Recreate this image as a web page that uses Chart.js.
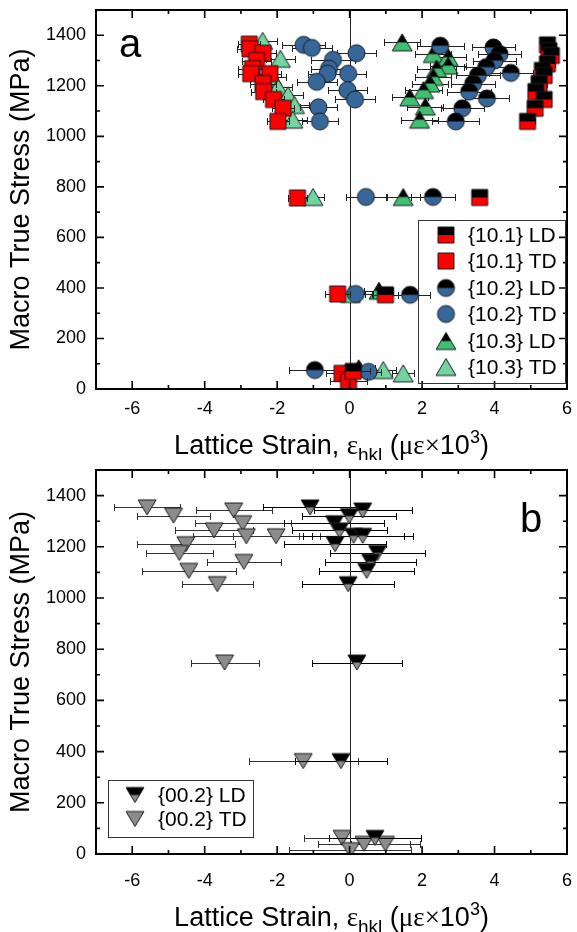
<!DOCTYPE html>
<html><head><meta charset="utf-8">
<script src="https://cdn.jsdelivr.net/npm/chart.js@4.4.1/dist/chart.umd.min.js"></script>
<style>
html,body{margin:0;padding:0;background:#fff;}
#wrap{position:relative;width:577px;height:932px;}
#ca{position:absolute;left:0;top:0;}
#cb{position:absolute;left:0;top:460px;}
</style></head><body>
<div id="wrap"><canvas id="ca" width="577" height="460"></canvas><canvas id="cb" width="577" height="472"></canvas></div>
<script>
// ---------------- DATA ----------------
const xTickValues = [-6, -4, -2, 0, 2, 4, 6];
const xMinorTicks = [-5, -3, -1, 1, 3, 5];
const yTickValues = [0, 200, 400, 600, 800, 1000, 1200, 1400];
const yMinorTicks = [100, 300, 500, 700, 900, 1100, 1300];

const labelsA = ['{10.1} LD', '{10.1} TD', '{10.2} LD', '{10.2} TD', '{10.3} LD', '{10.3} TD'];
const labelsB = ['{00.2} LD', '{00.2} TD'];

// Panel a
const ld101Strain = [5.46, 5.50, 5.57, 5.46, 5.32, 5.37, 5.23, 5.14, 5.37, 5.12, 4.91, 3.59, 0.99, 0.10];
const ld101Stress = [1362, 1339, 1320, 1287, 1261, 1241, 1209, 1177, 1146, 1111, 1059, 758, 373, 70];
const ld101Err    = [0.18, 0.15, 0.18, 0.2, 0.2, 0.2, 0.22, 0.2, 0.2, 0.2, 0.22, 0.1, 0.35, 0.45];

const td101Strain = [-2.77, -2.75, -2.39, -2.57, -2.68, -2.73, -2.20, -2.39, -2.37, -2.10, -1.84, -1.98, -1.44, -0.33, -0.21, -0.03];
const td101Stress = [1365, 1346, 1329, 1300, 1268, 1248, 1248, 1209, 1177, 1146, 1111, 1059, 756, 376, 62, 30];
const td101Err    = [0.3, 0.35, 0.35, 0.4, 0.4, 0.35, 0.3, 0.35, 0.35, 0.3, 0.3, 0.3, 0.25, 0.35, 0.45, 0.5];

const ld102Strain = [2.50, 3.97, 4.14, 4.00, 3.77, 4.45, 3.54, 3.41, 3.30, 3.79, 3.11, 2.93, 2.30, 1.67, -0.96];
const ld102Stress = [1359, 1352, 1326, 1300, 1274, 1251, 1241, 1209, 1177, 1150, 1111, 1059, 760, 373, 75];
const ld102Err    = [0.65, 0.6, 0.6, 0.6, 0.6, 0.6, 0.6, 0.6, 0.6, 0.6, 0.6, 0.65, 0.6, 0.55, 0.7];

const td102Strain = [-1.27, -1.04, 0.19, -0.46, -0.57, -0.61, -0.04, -0.91, -0.06, 0.15, -0.86, -0.82, 0.45, 0.17, 0.52];
const td102Stress = [1362, 1350, 1329, 1303, 1268, 1248, 1248, 1216, 1183, 1146, 1115, 1059, 760, 376, 68];
const td102Err    = [0.6, 0.55, 0.55, 0.6, 0.5, 0.55, 0.5, 0.55, 0.55, 0.55, 0.5, 0.5, 0.55, 0.45, 0.35];

const ld103Strain = [1.45, 2.31, 2.72, 2.72, 2.40, 2.31, 2.22, 2.04, 1.66, 2.09, 1.93, 1.48, 0.81, 0.25];
const ld103Stress = [1372, 1326, 1313, 1280, 1268, 1235, 1209, 1183, 1154, 1118, 1066, 760, 389, 82];
const ld103Err    = [0.5, 0.5, 0.5, 0.5, 0.55, 0.5, 0.5, 0.5, 0.5, 0.5, 0.5, 0.45, 0.4, 0.45];

const td103Strain = [-2.40, -1.91, -2.15, -1.98, -1.70, -1.52, -1.57, -1.01, 0.02, 0.93, 1.48];
const td103Stress = [1378, 1307, 1235, 1195, 1163, 1124, 1066, 760, 376, 75, 62];
const td103Err    = [0.4, 0.4, 0.4, 0.4, 0.4, 0.4, 0.4, 0.3, 0.4, 0.35, 0.3];

// Panel b
const ld002Strain = [-1.09, 0.36, -0.01, -0.42, -0.28, 0.11, 0.36, -0.40, 0.77, 0.58, 0.47, -0.04, 0.20, -0.24, 0.70];
const ld002Stress = [1354, 1342, 1320, 1292, 1264, 1243, 1243, 1210, 1176, 1142, 1106, 1054, 748, 363, 63];
const ld002Err    = [1.3, 1.35, 1.3, 1.38, 1.3, 1.4, 1.4, 1.4, 1.3, 1.26, 1.32, 1.27, 1.25, 1.27, 1.26];

const td002Strain = [-5.59, -4.86, -3.20, -2.95, -3.74, -2.85, -2.03, -4.52, -4.70, -2.92, -4.44, -3.65, -3.45, -1.28, -0.21, 0.40, 0.99, 0.02];
const td002Stress = [1354, 1322, 1342, 1292, 1264, 1241, 1241, 1210, 1176, 1141, 1106, 1054, 748, 363, 63, 40, 40, 15];
const td002Err    = [0.9, 1.0, 1.05, 1.33, 1.08, 1.46, 1.2, 1.35, 0.93, 1.02, 1.3, 0.97, 0.94, 1.5, 1.05, 1.28, 0.94, 1.68];

// ---------------- STYLE ----------------
const RED = '#ff0000', BLUE = '#35679a', GREEN_LD = '#3fbf6f', GREEN_TD = '#72d49e', GREY = '#8c8c8c', BLACK = '#000000';
const MAIN_FONT = '"Liberation Sans", Arial, sans-serif';
const SERIF_FONT = '"Liberation Serif", "Times New Roman", serif';
Chart.defaults.font.family = MAIN_FONT;
Chart.defaults.color = '#000';

function makeMarker(shape, top, bottom, w, h) {
  const pad = 2;
  const c = document.createElement('canvas');
  c.width = Math.ceil(w + pad * 2); c.height = Math.ceil(h + pad * 2);
  const g = c.getContext('2d');
  const cx = c.width / 2, cy = c.height / 2;
  g.beginPath();
  if (shape === 'square') g.rect(cx - w / 2, cy - h / 2, w, h);
  else if (shape === 'circle') g.arc(cx, cy, w / 2, 0, Math.PI * 2);
  else if (shape === 'up') { g.moveTo(cx, cy - h / 2); g.lineTo(cx + w / 2, cy + h / 2); g.lineTo(cx - w / 2, cy + h / 2); g.closePath(); }
  else { g.moveTo(cx - w / 2, cy - h / 2); g.lineTo(cx + w / 2, cy - h / 2); g.lineTo(cx, cy + h / 2); g.closePath(); }
  g.save(); g.clip();
  g.fillStyle = bottom; g.fillRect(0, 0, c.width, c.height);
  if (top) { g.fillStyle = top; g.fillRect(0, 0, c.width, cy); }
  g.restore();
  g.lineWidth = 1; g.strokeStyle = '#1a1a1a'; g.stroke();
  return c;
}

function pts(xs, ys) { return xs.map((x, i) => ({ x: x, y: ys[i] })); }

function ds(label, xs, ys, errs, marker, errColor) {
  return { label, data: pts(xs, ys), xErr: errs, pointStyle: marker, pointRadius: 9, showLine: false, errColor: errColor || '#222' };
}

const errorBarPlugin = {
  id: 'errbars',
  beforeDatasetDraw(chart, args) {
    const d = chart.data.datasets[args.index];
    if (!d.xErr) return;
    const xs = chart.scales.x, ys = chart.scales.y, ctx = chart.ctx;
    ctx.save();
    ctx.strokeStyle = d.errColor; ctx.lineWidth = 1;
    d.data.forEach((p, i) => {
      const e = d.xErr[i]; if (!e) return;
      const py = Math.round(ys.getPixelForValue(p.y)) + 0.5;
      const x1 = Math.round(xs.getPixelForValue(p.x - e)) + 0.5, x2 = Math.round(xs.getPixelForValue(p.x + e)) + 0.5;
      ctx.beginPath();
      ctx.moveTo(x1, py); ctx.lineTo(x2, py);
      ctx.moveTo(x1, py - 3.5); ctx.lineTo(x1, py + 3.5);
      ctx.moveTo(x2, py - 3.5); ctx.lineTo(x2, py + 3.5);
      ctx.stroke();
    });
    ctx.restore();
  }
};

const framePlugin = {
  id: 'frame',
  beforeDatasetsDraw(chart) {
    const ctx = chart.ctx, a = chart.chartArea, x0 = Math.round(chart.scales.x.getPixelForValue(0)) + 0.5;
    ctx.save(); ctx.strokeStyle = '#222'; ctx.lineWidth = 1;
    ctx.beginPath(); ctx.moveTo(x0, a.top); ctx.lineTo(x0, a.bottom); ctx.stroke(); ctx.restore();
  },
  afterDraw(chart, args, o) {
    const ctx = chart.ctx, a = chart.chartArea, xs = chart.scales.x, ys = chart.scales.y;
    ctx.save();
    ctx.strokeStyle = '#000'; ctx.lineWidth = 1.6;
    ctx.beginPath();
    const tick = (vals, len) => {
      vals.forEach(v => {
        const px = xs.getPixelForValue(v);
        ctx.moveTo(px, a.bottom); ctx.lineTo(px, a.bottom - len);
        ctx.moveTo(px, a.top); ctx.lineTo(px, a.top + len);
      });
    };
    const tickY = (vals, len) => {
      vals.forEach(v => {
        const py = ys.getPixelForValue(v);
        ctx.moveTo(a.left, py); ctx.lineTo(a.left + len, py);
        ctx.moveTo(a.right, py); ctx.lineTo(a.right - len, py);
      });
    };
    tick(xTickValues, 8); tick(xMinorTicks, 4);
    tickY(yTickValues, 8); tickY(yMinorTicks, 4);
    ctx.stroke();
    ctx.lineWidth = 2;
    ctx.strokeRect(a.left, a.top, a.right - a.left, a.bottom - a.top);

    // y title
    ctx.fillStyle = '#000';
    ctx.save();
    ctx.translate(o.yTitleX, (a.top + a.bottom) / 2);
    ctx.rotate(-Math.PI / 2);
    ctx.font = '27px ' + MAIN_FONT; ctx.textAlign = 'center'; ctx.textBaseline = 'middle';
    ctx.fillText('Macro True Stress (MPa)', 0, 0);
    ctx.restore();

    // x title with sub/superscript
    const parts = [
      { t: 'Lattice Strain, ', f: '27px ' + MAIN_FONT, dy: 0 },
      { t: 'ε', f: '27px ' + SERIF_FONT, dy: 0 },
      { t: 'hkl', f: '19px ' + MAIN_FONT, dy: 7 },
      { t: ' (', f: '27px ' + MAIN_FONT, dy: 0 },
      { t: 'με×', f: '27px ' + SERIF_FONT, dy: 0 },
      { t: '10', f: '27px ' + MAIN_FONT, dy: 0 },
      { t: '3', f: '18px ' + MAIN_FONT, dy: -11 },
      { t: ')', f: '27px ' + MAIN_FONT, dy: 0 }
    ];
    let total = 0;
    parts.forEach(p => { ctx.font = p.f; p.w = ctx.measureText(p.t).width; total += p.w; });
    let x = (a.left + a.right) / 2 - total / 2;
    ctx.textAlign = 'left'; ctx.textBaseline = 'alphabetic';
    parts.forEach(p => { ctx.font = p.f; ctx.fillText(p.t, x, o.xTitleBase + p.dy); x += p.w; });

    // panel letter
    ctx.font = '40px ' + MAIN_FONT;
    ctx.fillText(o.letter, o.letterX, o.letterY);

    // legend
    const L = o.legend;
    ctx.lineWidth = 1; ctx.strokeStyle = '#333';
    ctx.strokeRect(L.x + 0.5, L.y + 0.5, L.w, L.h);
    ctx.font = '21px ' + MAIN_FONT; ctx.textBaseline = 'middle';
    chart.data.datasets.forEach((d, i) => {
      const y = L.rowY[i];
      const m = d.pointStyle;
      ctx.drawImage(m, L.markerX - m.width / 2, y - m.height / 2);
      ctx.fillText(d.label, L.textX, y + 1);
    });
    ctx.restore();
  }
};

function scales(xAxisH, xPad) {
  return {
    x: {
      type: 'linear', min: -7, max: 6,
      afterBuildTicks: s => { s.ticks = xTickValues.map(v => ({ value: v })); },
      afterFit: s => { s.height = xAxisH; s.paddingLeft = 0; s.paddingRight = 0; },
      grid: { display: false, drawTicks: false }, border: { display: false },
      ticks: { padding: xPad, font: { size: 18 }, color: '#000', maxRotation: 0, autoSkip: false, callback: v => String(v) }
    },
    y: {
      type: 'linear', min: 0, max: 1500,
      afterBuildTicks: s => { s.ticks = yTickValues.map(v => ({ value: v })); },
      afterFit: s => { s.width = 96; s.paddingTop = 0; s.paddingBottom = 0; },
      grid: { display: false, drawTicks: false }, border: { display: false },
      ticks: { padding: 10, font: { size: 18 }, color: '#000', autoSkip: false, callback: v => String(v) }
    }
  };
}

const common = {
  responsive: false, animation: false, events: [],
  plugins: { legend: { display: false }, tooltip: { enabled: false } }
};

new Chart(document.getElementById('ca'), {
  type: 'scatter',
  data: {
    datasets: [
      ds(labelsA[0], ld101Strain, ld101Stress, ld101Err, makeMarker('square', BLACK, RED, 16, 16)),
      ds(labelsA[1], td101Strain, td101Stress, td101Err, makeMarker('square', null, RED, 16, 16)),
      ds(labelsA[2], ld102Strain, ld102Stress, ld102Err, makeMarker('circle', BLACK, BLUE, 17, 17)),
      ds(labelsA[3], td102Strain, td102Stress, td102Err, makeMarker('circle', null, BLUE, 17, 17)),
      ds(labelsA[4], ld103Strain, ld103Stress, ld103Err, makeMarker('up', BLACK, GREEN_LD, 20, 17)),
      ds(labelsA[5], td103Strain, td103Stress, td103Err, makeMarker('up', null, GREEN_TD, 20, 17))
    ]
  },
  options: Object.assign({}, common, {
    layout: { padding: { top: 5, right: 5, left: 0, bottom: 0 } },
    scales: scales(71, 9),
    plugins: Object.assign({}, common.plugins, {
      frame: {
        yTitleX: 22, xTitleBase: 454, letter: 'a', letterX: 119, letterY: 57,
        legend: { x: 418, y: 220, w: 147, h: 163, markerX: 446, textX: 468, rowY: [235, 261, 288, 314, 341, 367] }
      }
    })
  }),
  plugins: [errorBarPlugin, framePlugin]
});

new Chart(document.getElementById('cb'), {
  type: 'scatter',
  data: {
    datasets: [
      ds(labelsB[0], ld002Strain, ld002Stress, ld002Err, makeMarker('down', BLACK, GREY, 18, 15), '#000'),
      ds(labelsB[1], td002Strain, td002Stress, td002Err, makeMarker('down', null, GREY, 18, 15), '#333')
    ]
  },
  options: Object.assign({}, common, {
    layout: { padding: { top: 10, right: 5, left: 0, bottom: 0 } },
    scales: scales(78, 16),
    plugins: Object.assign({}, common.plugins, {
      frame: {
        yTitleX: 22, xTitleBase: 466, letter: 'b', letterX: 520, letterY: 72,
        legend: { x: 108, y: 320, w: 145, h: 57, markerX: 135, textX: 158, rowY: [335, 359] }
      }
    })
  }),
  plugins: [errorBarPlugin, framePlugin]
});
</script>
</body></html>
